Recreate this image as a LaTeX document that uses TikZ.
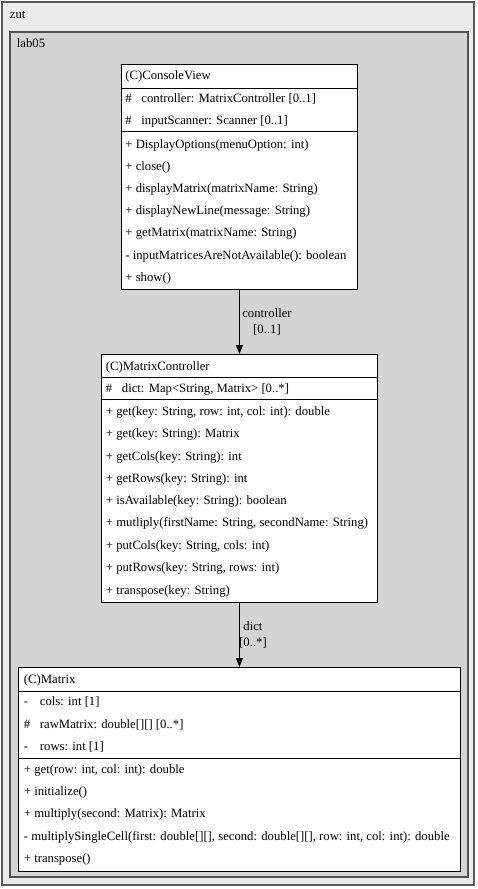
\documentclass[tikz,border=0pt]{standalone}
\usepackage{fontspec}
\setmainfont{Liberation Serif}
\usepackage{tikz}
\usetikzlibrary{arrows.meta}

\definecolor{zutfill}{RGB}{236,236,236}
\definecolor{labfill}{RGB}{212,212,212}
\definecolor{zutline}{RGB}{90,90,90}
\definecolor{labline}{RGB}{80,80,80}

% visibility mark followed by the member name
\newcommand{\vismark}[1]{\makebox[16pt][l]{#1}}

\begin{document}
\begin{tikzpicture}[x=1pt,y=1pt,yscale=-1,xscale=1,
    classbox/.style={draw,fill=white,line width=0.9pt,anchor=north west,inner sep=0pt},
    member/.style={anchor=west,inner sep=0.75pt,font=\fontsize{12.7}{15}\selectfont},
    assoc/.style={line width=0.9pt,-{Triangle[length=9pt,width=7pt]}},
    assoclabel/.style={align=center,inner sep=0.75pt,font=\fontsize{12.7}{16}\selectfont}]

        \useasboundingbox (0,0) rectangle (477,889);

        %Shape: Rectangle [package zut]
        \draw [draw=zutline, fill=zutfill, line width=1.2] (2,2) rectangle (474,885) ;
        %Shape: Rectangle [package lab05]
        \draw [draw=labline, fill=labfill, line width=1.2] (10,32) rectangle (468,877) ;

        % Text Node
        \node (zutname) [member] at (9,15) {zut};
        % Text Node
        \node (labname) [member] at (16,43) {lab05};

        %Shape: Class box [ConsoleView]
        \node (consoleview) [classbox, minimum width=236, minimum height=225] at (121,64) {};
        \draw [line width=0.9] (121,88) -- (357,88) ;
        \draw [line width=0.9] (121,131) -- (357,131) ;
        %Shape: Class box [MatrixController]
        \node (matrixcontroller) [classbox, minimum width=276, minimum height=248] at (101,354) {};
        \draw [line width=0.9] (101,377) -- (377,377) ;
        \draw [line width=0.9] (101,399) -- (377,399) ;
        %Shape: Class box [Matrix]
        \node (matrix) [classbox, minimum width=442, minimum height=204] at (18,667) {};
        \draw [line width=0.9] (18,691) -- (460,691) ;
        \draw [line width=0.9] (18,758) -- (460,758) ;

        %Straight Lines [ConsoleView -> MatrixController]
        \draw [assoc] (consoleview) -- (matrixcontroller) ;
        %Straight Lines [MatrixController -> Matrix]
        \draw [assoc] (matrixcontroller) -- (matrix) ;

        % Text Node
        \node (controllerlabel) [assoclabel] at (267,322) {controller\\{[0..1]}};
        % Text Node
        \node (dictlabel) [assoclabel] at (253,635) {dict\\{[0..*]}};

        % Text Node
        \node (cvtitle) [member] at (124.5,76) {(C)ConsoleView};
        % Text Node
        \node (cvcontroller) [member] at (124.5,99) {\vismark{\#}controller: MatrixController [0..1]};
        % Text Node
        \node (cvscanner) [member] at (124.5,121) {\vismark{\#}inputScanner: Scanner [0..1]};
        % Text Node
        \node (cvdisplayoptions) [member] at (124.5,145) {+ DisplayOptions(menuOption: int)};
        % Text Node
        \node (cvclose) [member] at (124.5,167) {+ close()};
        % Text Node
        \node (cvdisplaymatrix) [member] at (124.5,189) {+ displayMatrix(matrixName: String)};
        % Text Node
        \node (cvdisplaynewline) [member] at (124.5,211) {+ displayNewLine(message: String)};
        % Text Node
        \node (cvgetmatrix) [member] at (124.5,233) {+ getMatrix(matrixName: String)};
        % Text Node
        \node (cvnotavailable) [member] at (124.5,256) {- inputMatricesAreNotAvailable(): boolean};
        % Text Node
        \node (cvshow) [member] at (124.5,278) {+ show()};

        % Text Node
        \node (mctitle) [member] at (105,367) {(C)MatrixController};
        % Text Node
        \node (mcdict) [member] at (105,389) {\vismark{\#}dict: Map<String, Matrix> [0..*]};
        % Text Node
        \node (mcgetcell) [member] at (105,412) {+ get(key: String, row: int, col: int): double};
        % Text Node
        \node (mcget) [member] at (105,434) {+ get(key: String): Matrix};
        % Text Node
        \node (mcgetcols) [member] at (105,457) {+ getCols(key: String): int};
        % Text Node
        \node (mcgetrows) [member] at (105,479) {+ getRows(key: String): int};
        % Text Node
        \node (mcisavailable) [member] at (105,501) {+ isAvailable(key: String): boolean};
        % Text Node
        \node (mcmultiply) [member] at (105,523) {+ mutliply(firstName: String, secondName: String)};
        % Text Node
        \node (mcputcols) [member] at (105,546) {+ putCols(key: String, cols: int)};
        % Text Node
        \node (mcputrows) [member] at (105,568) {+ putRows(key: String, rows: int)};
        % Text Node
        \node (mctranspose) [member] at (105,591) {+ transpose(key: String)};

        % Text Node
        \node (mxtitle) [member] at (23,680) {(C)Matrix};
        % Text Node
        \node (mxcols) [member] at (23,702) {\vismark{-}cols: int [1]};
        % Text Node
        \node (mxraw) [member] at (23,725) {\vismark{\#}rawMatrix: double[][] [0..*]};
        % Text Node
        \node (mxrows) [member] at (23,747) {\vismark{-}rows: int [1]};
        % Text Node
        \node (mxget) [member] at (23,770) {+ get(row: int, col: int): double};
        % Text Node
        \node (mxinitialize) [member] at (23,792) {+ initialize()};
        % Text Node
        \node (mxmultiply) [member] at (23,814) {+ multiply(second: Matrix): Matrix};
        % Text Node
        \node (mxsinglecell) [member] at (23,837) {- multiplySingleCell(first: double[][], second: double[][], row: int, col: int): double};
        % Text Node
        \node (mxtranspose) [member] at (23,859) {+ transpose()};

\end{tikzpicture}
\end{document}
